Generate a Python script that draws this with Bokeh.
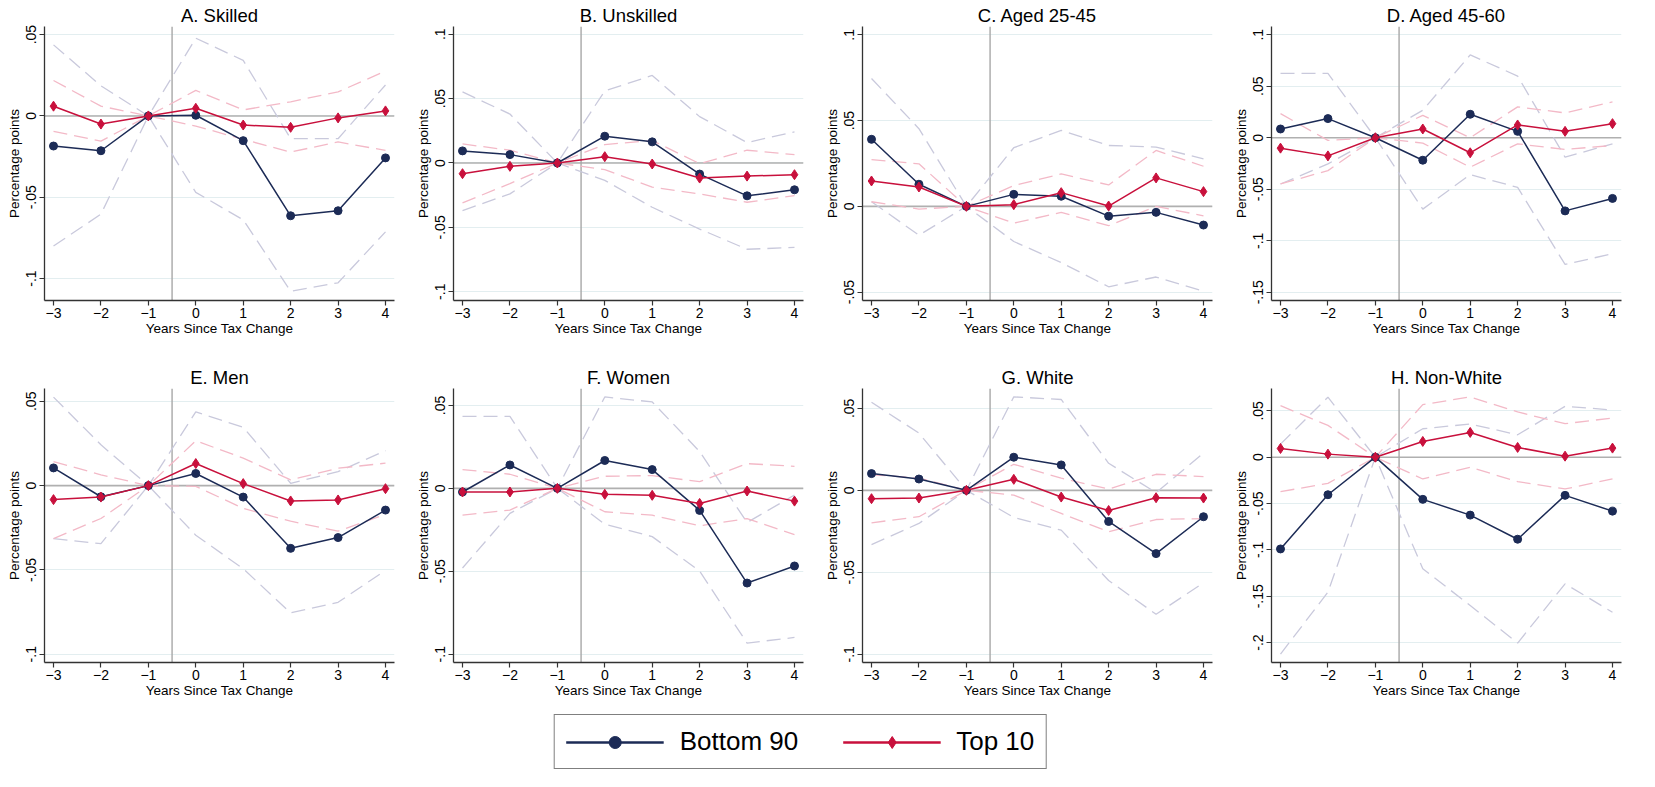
from bokeh.plotting import figure
from bokeh.models import FixedTicker, Span, Legend, LegendItem, CustomJSTickFormatter, Range1d
from bokeh.layouts import column, row
from bokeh.embed import file_html
from bokeh.resources import INLINE

years = [-3, -2, -1, 0, 1, 2, 3, 4]
x_label = "Years Since Tax Change"
y_label = "Percentage points"

# A. Skilled
skilled_b90 = [-0.0185, -0.0214, 0.0, 0.0004, -0.0152, -0.0614, -0.0583, -0.0258]
skilled_b90_hi = [0.0437, 0.0185, 0.0, 0.0478, 0.0342, -0.014, -0.014, 0.019]
skilled_b90_lo = [-0.080, -0.0604, 0.0, -0.047, -0.0639, -0.1078, -0.1026, -0.0713]
skilled_t10 = [0.006, -0.005, 0.0, 0.0047, -0.0056, -0.007, -0.0012, 0.0031]
skilled_t10_hi = [0.0218, 0.006, 0.0, 0.0157, 0.0037, 0.0087, 0.0148, 0.0276]
skilled_t10_lo = [-0.0095, -0.0155, 0.0, -0.0062, -0.0144, -0.0222, -0.016, -0.0212]

# B. Unskilled
unskilled_b90 = [0.0094, 0.0065, 0.0, 0.0208, 0.0164, -0.0086, -0.0255, -0.0208]
unskilled_b90_hi = [0.0552, 0.038, 0.0, 0.056, 0.068, 0.036, 0.0159, 0.0242]
unskilled_b90_lo = [-0.037, -0.024, 0.0, -0.0135, -0.0344, -0.0513, -0.067, -0.0656]
unskilled_t10 = [-0.0083, -0.0026, 0.0, 0.0049, -0.0008, -0.0117, -0.0102, -0.0091]
unskilled_t10_hi = [0.0148, 0.0099, 0.0, 0.0143, 0.0174, -0.0005, 0.0099, 0.0065]
unskilled_t10_lo = [-0.031, -0.016, 0.0, -0.0052, -0.0188, -0.024, -0.0305, -0.0253]

# C. Aged 25-45
young_b90 = [0.0391, 0.0129, 0.0, 0.007, 0.0059, -0.0057, -0.0035, -0.0109]
young_b90_hi = [0.0746, 0.0453, 0.0, 0.0342, 0.0443, 0.0355, 0.0346, 0.0277]
young_b90_lo = [0.0027, -0.0168, 0.0, -0.0205, -0.0328, -0.0469, -0.0412, -0.0494]
young_t10 = [0.0148, 0.0113, 0.0, 0.001, 0.008, 0.0002, 0.0166, 0.0086]
young_t10_hi = [0.0273, 0.0248, 0.0, 0.0121, 0.0189, 0.0125, 0.0326, 0.0234]
young_t10_lo = [0.0027, -0.0016, 0.0, -0.0098, -0.0035, -0.0113, 0.0, -0.0055]

# D. Aged 45-60
old_b90 = [0.0085, 0.0186, 0.0, -0.0218, 0.0228, 0.0062, -0.071, -0.0589]
old_b90_hi = [0.0625, 0.0625, 0.0, 0.0267, 0.0804, 0.0599, -0.0189, -0.0059]
old_b90_lo = [-0.0449, -0.0254, 0.0, -0.0693, -0.0358, -0.0482, -0.123, -0.1126]
old_t10 = [-0.0101, -0.0176, 0.0, 0.0085, -0.0146, 0.0124, 0.0062, 0.0137]
old_t10_hi = [0.0234, -0.0026, 0.0, 0.0218, 0.0, 0.030, 0.0241, 0.0348]
old_t10_lo = [-0.0449, -0.0319, 0.0, -0.0052, -0.0286, -0.0059, -0.0114, -0.0075]

# E. Men
men_b90 = [0.0105, -0.0066, 0.0, 0.0072, -0.0068, -0.0372, -0.0308, -0.0145]
men_b90_hi = [0.0525, 0.0242, 0.0, 0.0437, 0.0346, 0.0014, 0.0083, 0.0207]
men_b90_lo = [-0.0314, -0.0344, 0.0, -0.0294, -0.0493, -0.0755, -0.0692, -0.0503]
men_t10 = [-0.0083, -0.0068, 0.0, 0.0131, 0.0012, -0.0091, -0.0085, -0.0018]
men_t10_hi = [0.0143, 0.0064, 0.0, 0.0266, 0.0163, 0.0034, 0.0103, 0.0133]
men_t10_lo = [-0.0314, -0.0195, 0.0, -0.0004, -0.0135, -0.0211, -0.027, -0.0171]

# F. Women
women_b90 = [-0.0022, 0.0141, 0.0, 0.0168, 0.0113, -0.0133, -0.0571, -0.0468]
women_b90_hi = [0.0434, 0.0434, 0.0, 0.0551, 0.0521, 0.0222, -0.0206, -0.004]
women_b90_lo = [-0.048, -0.0151, 0.0, -0.0216, -0.0291, -0.0499, -0.0933, -0.0899]
women_t10 = [-0.0022, -0.0022, 0.0, -0.0036, -0.0042, -0.0091, -0.0016, -0.0077]
women_t10_hi = [0.0113, 0.0085, 0.0, 0.0073, 0.0077, 0.004, 0.0149, 0.0133]
women_t10_lo = [-0.0162, -0.0131, 0.0, -0.0141, -0.0162, -0.0226, -0.0182, -0.0279]

# G. White
white_b90 = [0.0102, 0.0069, 0.0, 0.0202, 0.0155, -0.019, -0.0386, -0.0161]
white_b90_hi = [0.0537, 0.0349, 0.0, 0.057, 0.0554, 0.0165, -0.0014, 0.0227]
white_b90_lo = [-0.0331, -0.0202, 0.0, -0.0165, -0.0243, -0.055, -0.0756, -0.0564]
white_t10 = [-0.0051, -0.0047, 0.0, 0.0067, -0.0041, -0.0123, -0.0045, -0.0047]
white_t10_hi = [0.0095, 0.0075, 0.0, 0.0159, 0.0074, 0.0008, 0.0098, 0.0084]
white_t10_lo = [-0.0198, -0.0161, 0.0, -0.0029, -0.0141, -0.0253, -0.0178, -0.0172]

# H. Non-White
nonwhite_b90 = [-0.099, -0.0405, 0.0, -0.0455, -0.0625, -0.0885, -0.0412, -0.0582]
nonwhite_b90_hi = [0.0141, 0.0647, 0.0, 0.0307, 0.0358, 0.0242, 0.0549, 0.0509]
nonwhite_b90_lo = [-0.2124, -0.1456, 0.0, -0.1203, -0.16, -0.2005, -0.1366, -0.1673]
nonwhite_t10 = [0.0094, 0.0033, 0.0, 0.017, 0.0267, 0.0105, 0.0011, 0.0098]
nonwhite_t10_hi = [0.0556, 0.0343, 0.0, 0.0567, 0.065, 0.0488, 0.0361, 0.0423]
nonwhite_t10_lo = [-0.0372, -0.0282, 0.0, -0.0235, -0.0108, -0.0264, -0.0343, -0.0235]

NAVY = "#1c2b56"
RED = "#c8103c"
NAVY_CI = "#c9c9dc"
RED_CI = "#f3b9c7"
GRID = "#e3eef0"
FONT = "Liberation Sans"

fmt = CustomJSTickFormatter(code="""
var s = (Math.round(tick*100)/100).toString();
return s.replace('0.', '.');
""")


def panel(title, ylo, yhi, yticks, b90, b90_lo, b90_hi, t10, t10_lo, t10_hi, bottom_border, height):
    p = figure(width=409, height=height, x_range=Range1d(-3.19, 4.19), y_range=Range1d(ylo, yhi),
               toolbar_location=None, output_backend="svg",
               min_border_left=44, min_border_right=15, min_border_top=26,
               min_border_bottom=bottom_border)
    p.title.text = title
    p.title.align = "center"
    p.title.text_font = FONT
    p.title.text_font_size = "18.5px"
    p.title.text_font_style = "normal"
    p.title.text_color = "black"
    p.title.standoff = 2
    p.outline_line_color = None
    p.background_fill_color = "white"

    p.xgrid.visible = False
    p.ygrid.grid_line_color = GRID
    p.ygrid.grid_line_width = 1

    p.xaxis.ticker = FixedTicker(ticks=years)
    p.yaxis.ticker = FixedTicker(ticks=yticks)
    p.yaxis.formatter = fmt
    p.yaxis.major_label_orientation = "vertical"
    for ax in (p.xaxis, p.yaxis):
        ax.axis_line_color = "#333333"
        ax.axis_line_width = 1.3
        ax.major_tick_line_color = "#333333"
        ax.major_tick_line_width = 1.2
        ax.major_tick_out = 5
        ax.major_tick_in = 0
        ax.minor_tick_line_color = None
        ax.major_label_text_font = FONT
        ax.major_label_text_font_size = "14px"
        ax.major_label_text_color = "black"
        ax.axis_label_text_font = FONT
        ax.axis_label_text_font_size = "13.5px"
        ax.axis_label_text_font_style = "normal"
        ax.axis_label_text_color = "black"
    p.xaxis.axis_label = x_label
    p.yaxis.axis_label = y_label
    p.xaxis.major_label_standoff = 2
    p.xaxis.axis_label_standoff = 0
    p.yaxis.major_label_standoff = 3
    p.yaxis.axis_label_standoff = 2

    p.add_layout(Span(location=0, dimension="width", line_color="#b0b0b0", line_width=1.6, level="underlay"))
    p.add_layout(Span(location=-0.5, dimension="height", line_color="#a8a8a8", line_width=1.4, level="underlay"))

    p.line(years, b90_hi, line_color=NAVY_CI, line_width=1.3, line_dash="14 7")
    p.line(years, b90_lo, line_color=NAVY_CI, line_width=1.3, line_dash="14 7")
    p.line(years, t10_hi, line_color=RED_CI, line_width=1.3, line_dash="14 7")
    p.line(years, t10_lo, line_color=RED_CI, line_width=1.3, line_dash="14 7")

    p.line(years, b90, line_color=NAVY, line_width=1.5)
    p.scatter(years, b90, marker="circle", size=8, color=NAVY)
    p.line(years, t10, line_color=RED, line_width=1.5)
    p.scatter(years, t10, marker="diamond", size=10, color=RED)
    return p


H1, H2 = 362, 346
B1, B2 = 62, 46
pA = panel("A. Skilled", -0.1135, 0.055, [-0.1, -0.05, 0, 0.05],
           skilled_b90, skilled_b90_lo, skilled_b90_hi, skilled_t10, skilled_t10_lo, skilled_t10_hi, B1, H1)
pB = panel("B. Unskilled", -0.1068, 0.106, [-0.1, -0.05, 0, 0.05, 0.1],
           unskilled_b90, unskilled_b90_lo, unskilled_b90_hi, unskilled_t10, unskilled_t10_lo, unskilled_t10_hi, B1, H1)
pC = panel("C. Aged 25-45", -0.0549, 0.1049, [-0.05, 0, 0.05, 0.1],
           young_b90, young_b90_lo, young_b90_hi, young_t10, young_t10_lo, young_t10_hi, B1, H1)
pD = panel("D. Aged 45-60", -0.158, 0.108, [-0.15, -0.1, -0.05, 0, 0.05, 0.1],
           old_b90, old_b90_lo, old_b90_hi, old_t10, old_t10_lo, old_t10_hi, B1, H1)
pE = panel("E. Men", -0.1049, 0.0576, [-0.1, -0.05, 0, 0.05],
           men_b90, men_b90_lo, men_b90_hi, men_t10, men_t10_lo, men_t10_hi, B2, H2)
pF = panel("F. Women", -0.105, 0.0602, [-0.1, -0.05, 0, 0.05],
           women_b90, women_b90_lo, women_b90_hi, women_t10, women_t10_lo, women_t10_hi, B2, H2)
pG = panel("G. White", -0.105, 0.0621, [-0.1, -0.05, 0, 0.05],
           white_b90, white_b90_lo, white_b90_hi, white_t10, white_t10_lo, white_t10_hi, B2, H2)
pH = panel("H. Non-White", -0.2215, 0.0741, [-0.2, -0.15, -0.1, -0.05, 0, 0.05],
           nonwhite_b90, nonwhite_b90_lo, nonwhite_b90_hi, nonwhite_t10, nonwhite_t10_lo, nonwhite_t10_hi, B2, H2)

# legend strip
leg = figure(width=1600, height=62, x_range=Range1d(0, 1), y_range=Range1d(0, 1),
             toolbar_location=None, output_backend="svg", min_border=0)
leg.axis.visible = False
leg.grid.visible = False
leg.outline_line_color = None
r1 = leg.line([-5, -4], [-5, -4], line_color=NAVY, line_width=2.5)
r1s = leg.scatter([-5], [-5], marker="circle", size=15, color=NAVY)
r2 = leg.line([-5, -4], [-5, -4], line_color=RED, line_width=2.5)
r2s = leg.scatter([-5], [-5], marker="diamond", size=21, color=RED)
legend = Legend(items=[LegendItem(label="Bottom 90", renderers=[r1, r1s]),
                       LegendItem(label="Top 10", renderers=[r2, r2s])],
                orientation="horizontal", location="bottom",
                border_line_color="black", border_line_width=1.5,
                label_text_font=FONT, label_text_font_size="26px", label_text_color="black",
                glyph_width=98, glyph_height=30, label_standoff=16, spacing=44,
                padding=11, margin=1)
leg.add_layout(legend, "center")

layout = column(row(pA, pB, pC, pD), row(pE, pF, pG, pH), leg)
open("out.html", "w").write(file_html(layout, INLINE))
